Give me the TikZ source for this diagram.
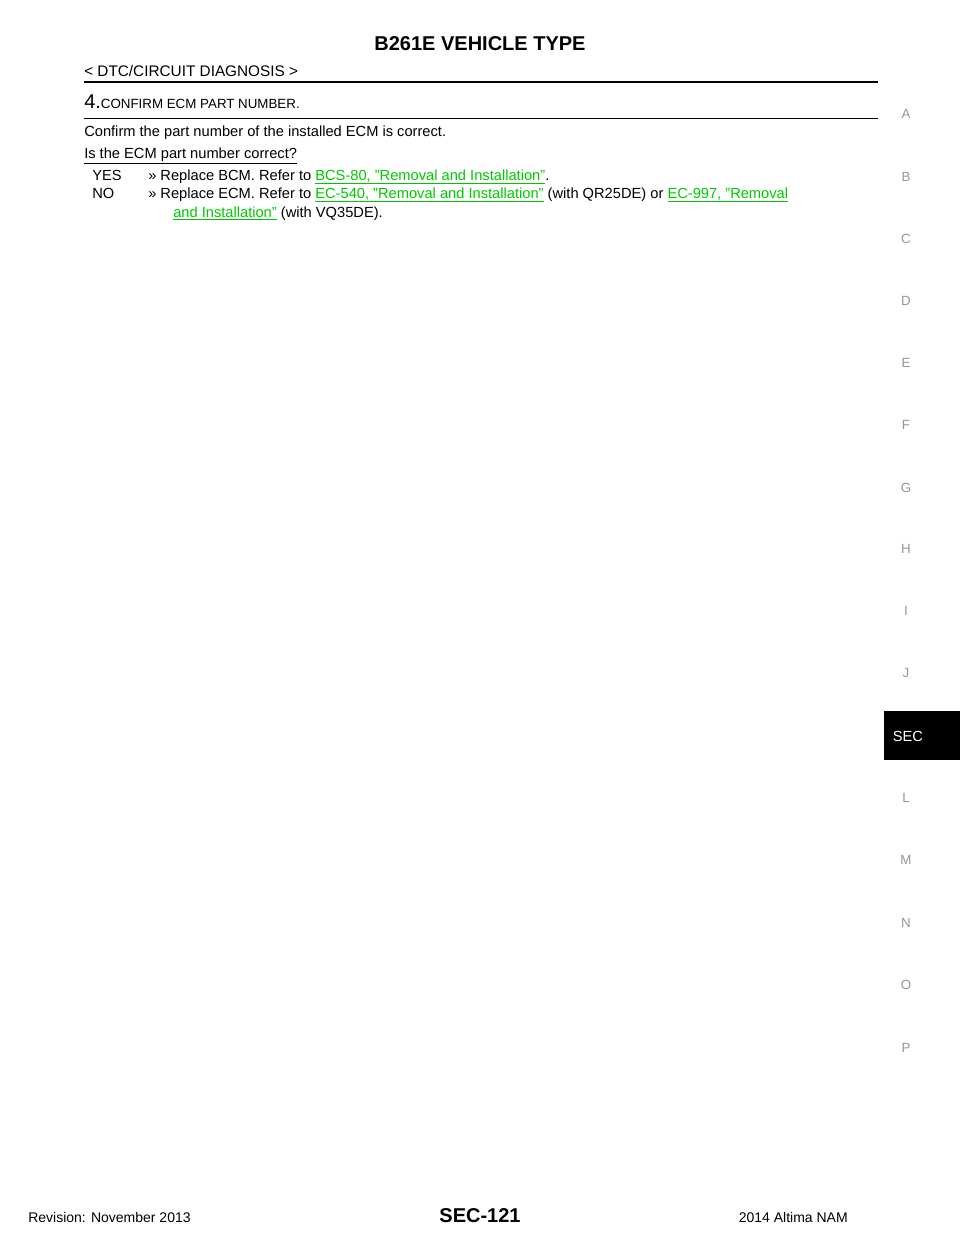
\documentclass[tikz,border=0pt]{standalone}
\usepackage{fontspec}
\setmainfont{Liberation Sans}
\usetikzlibrary{positioning}
\definecolor{linkgreen}{RGB}{0,200,0}
\definecolor{tabgray}{RGB}{150,150,150}
\newcommand{\lnk}[1]{\textcolor{linkgreen}{\underline{#1}}}
\tikzset{
  body/.style={anchor=base west, inner sep=0pt, font=\fontsize{11}{13}\selectfont},
  tab/.style={inner sep=0pt, text=tabgray, font=\fontsize{10}{12}\selectfont},
}
\begin{document}
\begin{tikzpicture}[x=0.75pt, y=-0.75pt]
    \useasboundingbox (0,0) rectangle (960,1242);
    % header
    \node[inner sep=0pt, font=\fontsize{15}{18}\selectfont\bfseries] (title) at (480,44) {B261E VEHICLE TYPE};
    \node[body] (sect) at (84,76) {\fontsize{11.5}{13}\selectfont < DTC/CIRCUIT DIAGNOSIS >};
    \draw[line width=1.6pt] (84,82) -- (878,82);
    \node[body] (step) at (84,108) {\fontsize{15}{17}\selectfont 4.\fontsize{10}{12}\selectfont CONFIRM ECM PART NUMBER.};
    \draw[line width=0.6pt] (84,118) -- (878,118);
    \node[body] (conf) at (84,136) {Confirm the part number of the installed ECM is correct.};
    \node[body] (ask) at (84,158) {\underline{Is the ECM part number correct?}};
    \node[body] (yes) at (92,180) {YES};
    \node[body] (yesa) at (148,180) {>> Replace BCM. Refer to \lnk{BCS-80, "Removal and Installation"}.};
    \node[body] (no) at (92,198) {NO};
    \node[body] (noa) at (148,198) {>> Replace ECM. Refer to \lnk{EC-540, "Removal and Installation"} (with QR25DE) or \lnk{EC-997, "Removal}};
    \node[body] (nob) at (173,217) {\lnk{and Installation"} (with VQ35DE).};
    % side tabs
    \foreach \t/\yy in {A/114,B/177,C/239,D/301,E/363,F/425,G/488,H/549,I/611,J/673,L/798,M/860,N/923,O/985,P/1048}
      \node[tab] (tab\t) at (906,\yy) {\t};
    \fill[black] (884,711) rectangle (960,760);
    \node[inner sep=0pt, text=white, font=\fontsize{11}{13}\selectfont] (tabSEC) at (908,736) {SEC};
    % footer
    \node[body, font=\fontsize{10.5}{12}\selectfont] (rev) at (28,1222) {Revision: November 2013};
    \node[inner sep=0pt, anchor=base, font=\fontsize{15}{18}\selectfont\bfseries] (page) at (480,1222) {SEC-121};
    \node[inner sep=0pt, anchor=base east, font=\fontsize{10.5}{12}\selectfont] (model) at (848,1222) {2014 Altima NAM};
\end{tikzpicture}
\end{document}
